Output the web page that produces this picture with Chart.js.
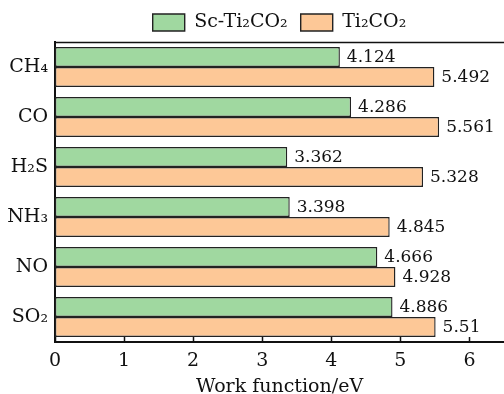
<!DOCTYPE html>
<html>
<head>
<meta charset="utf-8">
<script src="https://cdn.jsdelivr.net/npm/chart.js@4.4.0/dist/chart.umd.min.js"></script>
<style>
  html, body { margin: 0; padding: 0; background: #fff; }
  #wrap { width: 504px; height: 394px; }
</style>
</head>
<body>
<div id="wrap"><canvas id="myChart"></canvas></div>
<script>
var gases = ['CH\u2084', 'CO', 'H\u2082S', 'NH\u2083', 'NO', 'SO\u2082'];
var scValues = [4.124, 4.286, 3.362, 3.398, 4.666, 4.886];
var tiValues = [5.492, 5.561, 5.328, 4.845, 4.928, 5.51];
var scLabels = ['4.124', '4.286', '3.362', '3.398', '4.666', '4.886'];
var tiLabels = ['5.492', '5.561', '5.328', '4.845', '4.928', '5.51'];
var xTicks = [0, 1, 2, 3, 4, 5, 6];

var serif = "'DejaVu Serif', 'Liberation Serif', serif";
Chart.defaults.font.family = serif;
Chart.defaults.color = '#111';

// value labels next to bars, inward ticks and the top frame line
var extras = {
  id: 'extras',
  afterDatasetsDraw: function (chart) {
    var c = chart.ctx;
    var area = chart.chartArea;
    var txt = [scLabels, tiLabels];
    c.save();
    c.font = '17px ' + serif;
    c.fillStyle = '#111';
    c.textAlign = 'left';
    c.textBaseline = 'middle';
    chart.data.datasets.forEach(function (ds, i) {
      chart.getDatasetMeta(i).data.forEach(function (bar, j) {
        c.fillText(txt[i][j], bar.x + 7, bar.y + 1);
      });
    });
    c.strokeStyle = '#111';
    c.lineWidth = 1.5;
    c.beginPath();
    c.moveTo(area.left, area.top + 0.5);
    c.lineTo(area.right, area.top + 0.5);
    var xs = chart.scales.x;
    xTicks.forEach(function (v) {
      var px = Math.round(xs.getPixelForValue(v)) + 0.5;
      c.moveTo(px, area.bottom);
      c.lineTo(px, area.bottom - 5);
    });
    c.stroke();
    c.restore();
  }
};

var ctx = document.getElementById('myChart');
var myChart = new Chart(ctx, {
  type: 'bar',
  data: {
    labels: gases,
    datasets: [{
      label: 'Sc-Ti\u2082CO\u2082',
      data: scValues,
      backgroundColor: '#a0d8a0',
      borderColor: '#222',
      borderWidth: 1.4,
      borderSkipped: false
    },
    {
      label: 'Ti\u2082CO\u2082',
      data: tiValues,
      backgroundColor: '#fdc897',
      borderColor: '#222',
      borderWidth: 1.4,
      borderSkipped: false
    }]
  },
  options: {
    indexAxis: 'y',
    responsive: true,
    maintainAspectRatio: false,
    animation: false,
    categoryPercentage: 0.8,
    barPercentage: 1.0,
    layout: { padding: { left: 0, right: 0, top: 0, bottom: 0 } },
    plugins: {
      legend: {
        position: 'top',
        fullSize: false,
        labels: {
          boxWidth: 32,
          boxHeight: 17,
          padding: 13,
          font: { size: 19 },
          color: '#111'
        }
      },
      tooltip: { enabled: false }
    },
    scales: {
      x: {
        min: 0,
        max: 6.5,
        afterBuildTicks: function (axis) {
          axis.ticks = xTicks.map(function (v) { return { value: v }; });
        },
        afterFit: function (axis) { axis.height = 52; },
        grid: { display: false, drawTicks: false },
        border: { display: true, color: '#111', width: 2 },
        ticks: { font: { size: 19 }, color: '#111', padding: 8 },
        title: {
          display: true,
          text: 'Work function/eV',
          font: { size: 19, lineHeight: 1.0 },
          color: '#111',
          padding: { top: 0, bottom: -3 }
        }
      },
      y: {
        grid: { display: false, drawTicks: false },
        border: { display: true, color: '#111', width: 2 },
        ticks: { font: { size: 19 }, color: '#111', padding: 7 },
        afterFit: function (axis) { axis.width = 55; }
      }
    }
  },
  plugins: [extras]
});
</script>
</body>
</html>
